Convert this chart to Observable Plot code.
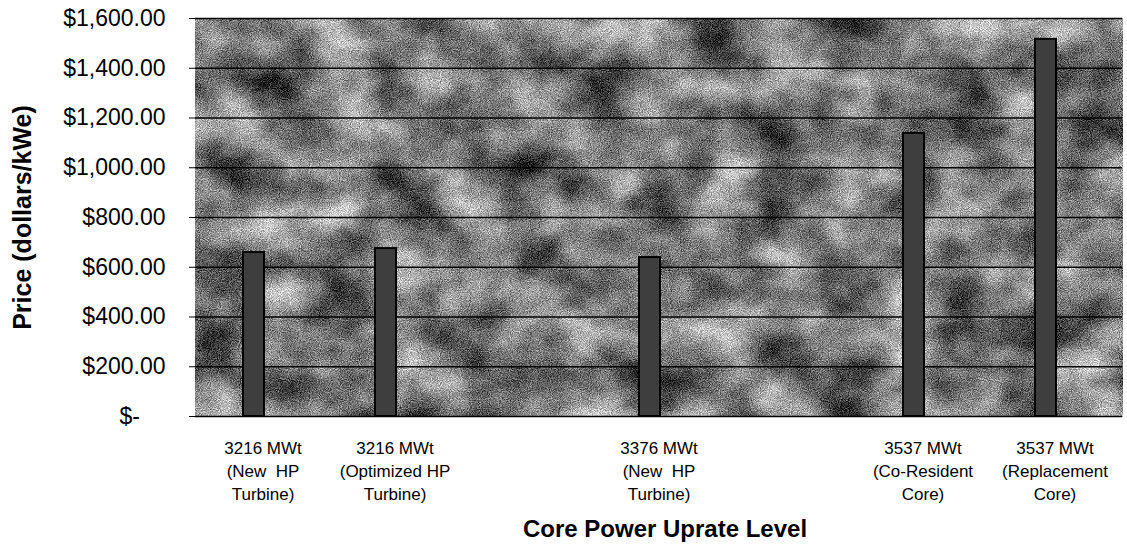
<!DOCTYPE html>
<html><head><meta charset="utf-8">
<script src="https://cdn.jsdelivr.net/npm/d3@7"></script>
<script src="https://cdn.jsdelivr.net/npm/@observablehq/plot@0.6"></script>
<style>body{margin:0;background:#fff}</style>
</head><body><div id="chart"></div>
<script>
const categories = [
  "3216 MWt\n(New  HP\nTurbine)",
  "3216 MWt\n(Optimized HP\nTurbine)",
  "",
  "3376 MWt\n(New  HP\nTurbine)",
  "",
  "3537 MWt\n(Co-Resident\nCore)",
  "3537 MWt\n(Replacement\nCore)"
];
const prices = [659, 675, null, 639, null, 1138, 1516];
const yTicks = [0, 200, 400, 600, 800, 1000, 1200, 1400, 1600];
const yTitle = "Price (dollars/kWe)";
const xTitle = "Core Power Uprate Level";

const data = categories.map((c, i) => ({i, label: c, price: prices[i]}));
const bars = data.filter(d => d.price != null);
const fmt = v => v === 0 ? "$-\u00a0\u00a0\u00a0\u00a0" : "$" + d3.format(",.2f")(v);

const chart = Plot.plot({
  width: 1127, height: 555,
  marginLeft: 195, marginRight: 5, marginTop: 18, marginBottom: 139,
  style: {fontFamily: "'Liberation Sans', Arial, sans-serif", background: "white", color: "black"},
  x: {type: "band", domain: data.map(d => d.i), paddingInner: 0.84, paddingOuter: 0.42, axis: null},
  y: {domain: [0, 1600], axis: null},
  marks: [
    Plot.frame({fill: "#888", stroke: null}),
    Plot.ruleY(yTicks, {stroke: "black", strokeWidth: 1.5}),
    Plot.barY(bars, {x: "i", y: "price", fill: "#3e3e3e", stroke: "black", strokeWidth: 2, dx: -9}),
    Plot.axisY(yTicks, {tickSize: 6, tickPadding: 24, tickFormat: fmt, fontSize: 23, label: null}),
    Plot.axisX(data.map(d => d.i), {tickSize: 0, tickPadding: 21, tickFormat: i => categories[i], fontSize: 17, lineHeight: 1.35, label: null}),
    Plot.text([yTitle], {frameAnchor: "left", textAnchor: "middle", dx: -173, rotate: -90, fontSize: 25, fontWeight: "bold"}),
    Plot.text([xTitle], {frameAnchor: "bottom", dy: 120, dx: 6, fontSize: 24, fontWeight: "bold"})
  ]
});

// mottled, dithered grey texture for the plot background
const ns = "http://www.w3.org/2000/svg";
const defs = document.createElementNS(ns, "defs");
defs.innerHTML = `
<filter id="tex" x="0" y="0" width="1" height="1" color-interpolation-filters="sRGB">
  <feTurbulence type="fractalNoise" baseFrequency="0.016 0.02" numOctaves="3" seed="5" result="b0"/>
  <feColorMatrix in="b0" type="matrix" values="1 0 0 0 0  1 0 0 0 0  1 0 0 0 0  0 0 0 0 1" result="big"/>
  <feTurbulence type="fractalNoise" baseFrequency="1.1" numOctaves="1" seed="2" result="f0"/>
  <feColorMatrix in="f0" type="matrix" values="1 0 0 0 0  1 0 0 0 0  1 0 0 0 0  0 0 0 0 1" result="fine"/>
  <feComposite in="big" in2="fine" operator="arithmetic" k1="0" k2="1.0" k3="1.1" k4="-0.57"/>
</filter>`;
chart.insertBefore(defs, chart.firstChild);
const frame = chart.querySelector('[aria-label="frame"]');
if (frame) frame.setAttribute("filter", "url(#tex)");
document.getElementById("chart").appendChild(chart);
</script>
</body></html>
